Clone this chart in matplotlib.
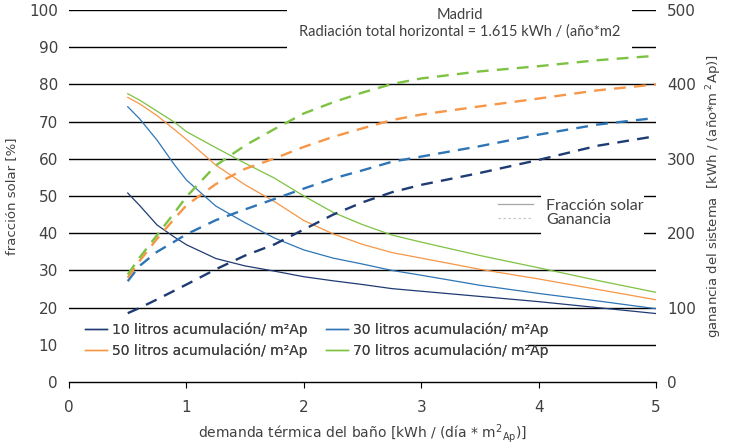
import matplotlib
matplotlib.use("Agg")
import matplotlib.pyplot as plt
from matplotlib.patches import Rectangle
from matplotlib.lines import Line2D

plt.rcParams['font.family'] = ['DejaVu Sans']

x = [0.5, 0.6, 0.75, 0.9, 1.0, 1.25, 1.5, 1.75, 2.0, 2.25, 2.5, 2.75, 3.0, 3.5, 4.0, 4.5, 5.0]

# Fracción solar [%]
fs_10 = [50.8, 47.5, 42.2, 38.9, 36.9, 33.2, 31.2, 29.8, 28.3, 27.2, 26.2, 25.1, 24.4, 23.0, 21.6, 20.0, 18.4]
fs_30 = [74.0, 70.8, 65.0, 58.3, 54.3, 47.3, 42.8, 38.7, 35.5, 33.3, 31.7, 30.0, 28.7, 26.0, 23.8, 21.8, 19.7]
fs_50 = [76.5, 74.8, 71.6, 67.8, 65.2, 58.3, 53.0, 48.5, 43.4, 39.8, 37.0, 34.8, 33.3, 30.3, 27.7, 24.9, 22.1]
fs_70 = [77.5, 75.8, 72.8, 69.8, 67.3, 63.0, 58.8, 54.8, 50.0, 45.6, 42.3, 39.5, 37.6, 34.0, 30.7, 27.3, 24.1]

# Ganancia del sistema [kWh/(año*m2Ap)]
g_10 = [92.5, 99.5, 111.0, 123.0, 131.0, 151.5, 170.0, 185.0, 205.0, 225.0, 241.5, 255.0, 265.0, 281.0, 298.5, 317.5, 330.5]
g_30 = [135.5, 156.0, 175.0, 189.0, 198.5, 217.5, 232.0, 246.0, 260.0, 273.5, 284.5, 296.0, 303.0, 317.0, 332.5, 346.0, 355.0]
g_50 = [140.0, 162.5, 192.5, 220.0, 237.5, 266.0, 286.5, 300.5, 316.0, 329.5, 341.0, 352.0, 359.5, 370.5, 381.0, 392.0, 400.0]
g_70 = [144.5, 167.0, 197.5, 228.0, 249.0, 291.0, 318.0, 340.0, 361.0, 376.0, 389.0, 400.5, 408.0, 417.5, 424.5, 432.5, 438.5]

labels = ['10 litros acumulación/ m²Ap', '30 litros acumulación/ m²Ap',
          '50 litros acumulación/ m²Ap', '70 litros acumulación/ m²Ap']
colors = ['#1F3B73', '#2E75B6', '#F79646', '#7DC242']
xticks = [0, 1, 2, 3, 4, 5]
yticks_left = [0, 10, 20, 30, 40, 50, 60, 70, 80, 90, 100]
yticks_right = [0, 100, 200, 300, 400, 500]

txt = '#404040'
fig = plt.figure(figsize=(7.29, 4.45), dpi=100)
ax = fig.add_axes([0.0947, 0.1416, 0.8052, 0.8359])
ax2 = ax.twinx()

ax.set_xlim(0, 5)
ax.set_ylim(0, 100)
ax2.set_ylim(0, 500)

for a in (ax, ax2):
    for s in ['top', 'left', 'right']:
        a.spines[s].set_visible(False)
ax2.spines['bottom'].set_visible(False)
ax.spines['bottom'].set_color('black')
ax.spines['bottom'].set_linewidth(1.0)

ax.set_yticks(yticks_left)
ax.set_yticklabels([str(v) for v in yticks_left])
ax2.set_yticks(yticks_right)
ax2.set_yticklabels([str(v) for v in yticks_right])
ax.set_xticks(xticks)
ax.set_xticklabels([str(v) for v in xticks])
ax.tick_params(axis='y', length=0, labelsize=11, labelcolor=txt, pad=8)
ax2.tick_params(axis='y', length=0, labelsize=11, labelcolor=txt, pad=8)
ax.tick_params(axis='x', length=4, direction='out', labelsize=11, labelcolor=txt, pad=9)

for v in yticks_left[1:]:
    ax.axhline(v, color='black', lw=1.0, zorder=0)

# white boxes behind texts
ax.add_patch(Rectangle((1.857, 86.2), 4.796 - 1.857, 16, facecolor='white', edgecolor='none',
                       zorder=5, clip_on=False))
ax.add_patch(Rectangle((4.02, 38.2), 0.88, 13.6, facecolor='white', edgecolor='none', zorder=1))
ax.add_patch(Rectangle((0.0, 5.0), 3.91, 10.0, facecolor='white', edgecolor='none', zorder=1))

for fs, c in zip([fs_10, fs_30, fs_50, fs_70], colors):
    ax.plot(x, fs, color=c, lw=0.9, zorder=3)
for g, c in zip([g_10, g_30, g_50, g_70], colors):
    ax2.plot(x, g, color=c, lw=1.7, dashes=(5, 3.5), zorder=3)
ax2.set_zorder(ax.get_zorder() + 1)
ax2.patch.set_visible(False)

# legend of series
handles = [Line2D([], [], color=colors[0], lw=1), Line2D([], [], color=colors[2], lw=1),
           Line2D([], [], color=colors[1], lw=1), Line2D([], [], color=colors[3], lw=1)]
hl = [labels[0], labels[2], labels[1], labels[3]]
leg = ax.legend(handles, hl, ncol=2, frameon=False, loc='upper left',
                bbox_to_anchor=(0.018, 0.175), fontsize=10.0, handlelength=1.6,
                handletextpad=0.35, columnspacing=1.3, labelspacing=0.45, borderaxespad=0)
for t in leg.get_texts():
    t.set_color(txt)
ax.add_artist(leg)

h2 = [Line2D([], [], color='#A6A6A6', lw=0.9), Line2D([], [], color='#C8C8C8', lw=0.9, ls=(0, (2, 2)))]
leg2 = ax2.legend(h2, ['Fracción solar', 'Ganancia'], frameon=False, loc='upper left',
                  bbox_to_anchor=(0.72, 0.51), handlelength=2.2,
                  handletextpad=0.8, labelspacing=0.0, borderaxespad=0,
                  prop={'family': 'Lato', 'size': 11.5})
for t in leg2.get_texts():
    t.set_color(txt)

ax.text(3.33, 98.7, 'Madrid', ha='center', va='center', fontsize=10.5, color=txt, zorder=6,
        family='Lato')
ax.text(3.33, 94.1, 'Radiación total horizontal = 1.615 kWh / (año*m2', ha='center', va='center',
        fontsize=10.5, color=txt, zorder=6, family='Lato')

ax.set_ylabel('fracción solar [%]', fontsize=9.5, color=txt, labelpad=8)
ax2.set_ylabel('ganancia del sistema  [kWh / (año*m$^{\\ 2}$Ap)]', fontsize=9.5, color=txt,
               labelpad=6)
ax.set_xlabel('demanda térmica del baño [kWh / (día * m$^{2}$$_{\\mathrm{Ap}}$)]', fontsize=10,
              color=txt, labelpad=5)

fig.savefig('out.png', dpi=100)
